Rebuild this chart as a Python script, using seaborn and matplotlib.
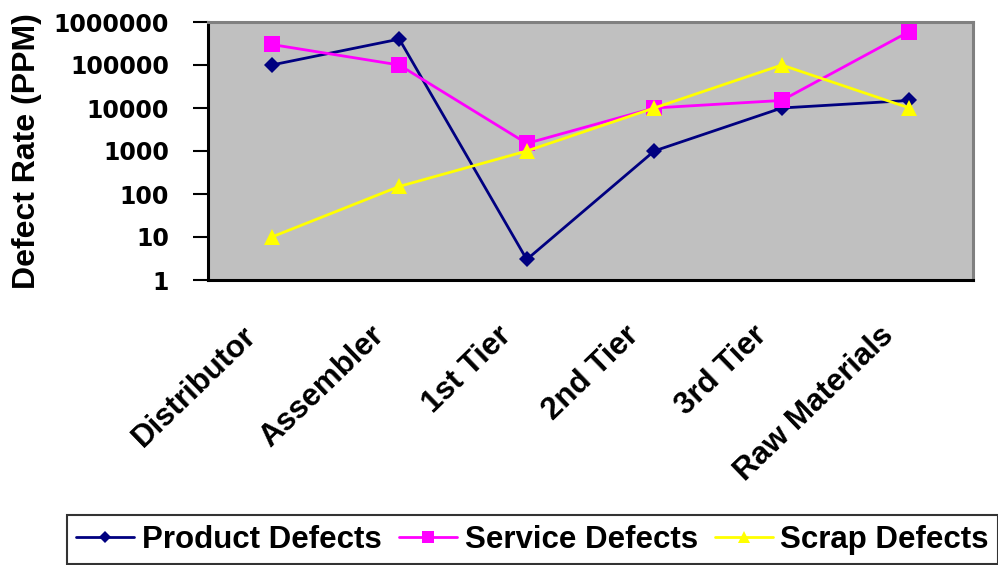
import matplotlib
matplotlib.use("Agg")
import matplotlib.pyplot as plt
from matplotlib.ticker import NullLocator
from matplotlib.transforms import ScaledTranslation
import seaborn as sns
import pandas as pd

categories = ["Distributor", "Assembler", "1st Tier", "2nd Tier", "3rd Tier", "Raw Materials"]
product_defects = [100000, 400000, 3, 1000, 10000, 15000]
service_defects = [300000, 100000, 1500, 10000, 15000, 600000]
scrap_defects = [10, 150, 1000, 10000, 100000, 10000]
series_names = ["Product Defects", "Service Defects", "Scrap Defects"]
y_ticks = [1, 10, 100, 1000, 10000, 100000, 1000000]

sns.set_theme(style="white", rc={"text.color": "black", "axes.labelcolor": "black",
                                 "xtick.color": "black", "ytick.color": "black"})
plt.rcParams["font.family"] = ["Liberation Sans", "DejaVu Sans"]
plt.rcParams["font.weight"] = "bold"

rows = []
for name, vals in zip(series_names, [product_defects, service_defects, scrap_defects]):
    for i, (cat, v) in enumerate(zip(categories, vals)):
        rows.append({"idx": i, "Stage": cat, "PPM": v, "Series": name})
df = pd.DataFrame(rows)

palette = {"Product Defects": "#000080", "Service Defects": "#FF00FF", "Scrap Defects": "#FFFF00"}
markers = {"Product Defects": "D", "Service Defects": "s", "Scrap Defects": "^"}
msizes = {"Product Defects": 7.8, "Service Defects": 11.5, "Scrap Defects": 12}

fig = plt.figure(figsize=(9.98, 5.65), dpi=100)
ax = fig.add_axes([208 / 998, 1 - 280 / 565, 765 / 998, 258 / 565])
ax.set_facecolor("#C0C0C0")

for name in series_names:
    sub = df[df["Series"] == name]
    sns.lineplot(data=sub, x="idx", y="PPM", color=palette[name], marker=markers[name],
                 markersize=msizes[name], markeredgecolor=palette[name], markeredgewidth=0,
                 linewidth=2.0, ax=ax, label=name, legend=False)

ax.set_yscale("log")
ax.set_ylim(1, 1000000)
ax.set_xlim(-0.5, len(categories) - 0.5)
ax.tick_params(axis="y", which="major", direction="out", length=11, width=1.5,
               color="black", pad=17, left=True)
ax.tick_params(axis="x", length=0, pad=27)
ax.set_yticks(y_ticks)
ax.set_yticklabels([str(t) for t in y_ticks], fontsize=17, fontweight="bold",
                   family="DejaVu Sans")
ax.yaxis.set_minor_locator(NullLocator())
ax.set_xticks(range(len(categories)))
ax.set_xticklabels(categories, rotation=44, ha="right", va="top",
                   fontsize=22.5, fontweight="bold")
# nudge the slanted category labels a little left and down
shift = ScaledTranslation(-9 / 100, -3 / 100, fig.dpi_scale_trans)
for lbl in ax.get_xticklabels():
    lbl.set_transform(lbl.get_transform() + shift)
ax.set_xlabel("")
ax.set_ylabel("")
fig.text(27 / 998, 1 - 151 / 565, "Defect Rate (PPM)", rotation=90, ha="center",
         va="center", fontsize=23, fontweight="bold")

for side in ["left", "bottom"]:
    ax.spines[side].set_color("black")
    ax.spines[side].set_linewidth(2.2)
for side in ["top", "right"]:
    ax.spines[side].set_color("#808080")
    ax.spines[side].set_linewidth(2.2)
    ax.spines[side].set_visible(True)

handles, labels = ax.get_legend_handles_labels()
leg = fig.legend(handles, labels, loc="lower left", bbox_to_anchor=(67 / 998, 1 / 565),
                 ncol=3, frameon=True, fancybox=False, borderaxespad=0,
                 prop={"size": 22.5, "weight": "bold"}, handlelength=1.85,
                 handletextpad=0.25, columnspacing=0.55, borderpad=0.3,
                 markerscale=0.75)
leg.get_frame().set_edgecolor("black")
leg.get_frame().set_linewidth(1.5)

fig.savefig("out.png", dpi=100)
